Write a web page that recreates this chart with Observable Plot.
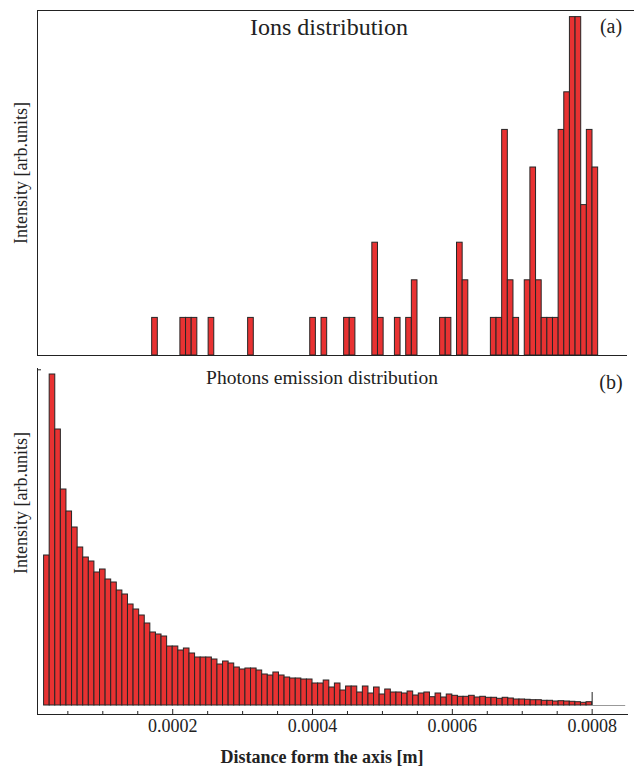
<!DOCTYPE html>
<html><head><meta charset="utf-8">
<script src="https://cdn.jsdelivr.net/npm/d3@7"></script>
<script src="https://cdn.jsdelivr.net/npm/@observablehq/plot@0.6"></script>
<style>
body{margin:0;background:#fff;}
#wrap{position:relative;width:634px;height:766px;overflow:hidden;}
#wrap svg{position:absolute;left:0;overflow:visible;}
</style></head><body><div id="wrap"></div>
<script>
// ---- data ----
const binWidth = 0.000008; // metres per histogram bin
// (a) Ions distribution: bin index and count per bin
const ionBins   = [21,26,27,28,31,38,49,51,55,56,60,61,64,66,67,72,73,75,76,81,82,83,84,85,87,88,89,90,91,92,93,94,95,96,97,98,99];
const ionCounts = [ 1, 1, 1, 1, 1, 1, 1, 1, 1, 1, 3, 1, 1, 1, 2, 1, 1, 3, 2, 1, 1, 6, 2, 1, 2, 5, 2, 1, 1, 1, 6, 7, 9, 9, 4, 6, 5];
// (b) Photons emission distribution: first bin index and intensities (arb. units)
const photonFirstBin = 2;
const photonValues = [150,331,276,216,194,178,158,148,144,133,136,126,123,115,111,101,96,90,82,73,71,69,59,59,
  55,57,52,48,48,48,46,41,44,42,38,36,37,37,35,31,30,33,30,28,27,27,26,26,22,22,25,18,22,15,19,19,
  13,19,12,18,11,16,13,13,12,14,10,12,13,8.3,12,8,11,9.7,8.7,8.7,9.7,
  8,8.7,7.7,7.7,6.7,7.7,7,6,6,5.7,5.3,5.3,4.7,4.7,4,4.3,4,3.7,3.3,2.7,3.3];
const xTickValues = [0.0002, 0.0004, 0.0006, 0.0008];
const xMinorTickValues = [0.00005,0.0001,0.00015,0.00025,0.0003,0.00035,0.00045,0.0005,0.00055,0.00065,0.0007,0.00075];
const yTickValues = [335.7];

const ions = ionBins.map((b, i) => ({x1: b * binWidth, x2: (b + 1) * binWidth, y: ionCounts[i]}));
const photons = photonValues.map((v, i) => ({x1: (photonFirstBin + i) * binWidth, x2: (photonFirstBin + i + 1) * binWidth, y: v}));

const RED = "#e83232", EDGE = "#262626", INK = "#222";
const font = {fontFamily: "'Liberation Serif','Times New Roman',serif", fontSize: "18px", color: INK, background: "transparent"};
const wrap = document.getElementById("wrap");

// ---- panel (a) ----
const ax0 = 5.5e-6, ax1 = 0.0008416, ayTop = 9.176;
const topPlot = Plot.plot({
  width: 634, height: 360,
  marginLeft: 37, marginRight: 7, marginTop: 10, marginBottom: 5,
  style: font,
  x: {domain: [ax0, ax1], axis: null},
  y: {domain: [0, ayTop], axis: null},
  marks: [
    Plot.rect(ions, {x1: "x1", x2: "x2", y1: 0, y2: "y", fill: RED, stroke: EDGE, strokeWidth: 1}),
    Plot.ruleY([0], {stroke: INK}),
    Plot.ruleX([ax0], {stroke: INK}),
    Plot.ruleY([ayTop], {x1: ax0, x2: 0.000852, stroke: INK})
  ]
});
topPlot.style.top = "0px";
wrap.appendChild(topPlot);

// ---- panel (b) ----
const bx0 = 6.58e-6, bx1 = 0.000852, by0 = -9, by1 = 337;
const botPlot = Plot.plot({
  width: 634, height: 406,
  marginLeft: 37, marginRight: 6, marginTop: 8, marginBottom: 52,
  style: font,
  x: {domain: [bx0, bx1], label: null},
  y: {domain: [by0, by1], axis: null},
  marks: [
    Plot.rect(photons, {x1: "x1", x2: "x2", y1: 0, y2: "y", fill: RED, stroke: EDGE, strokeWidth: 1}),
    Plot.ruleY([0], {x1: 0.0008, x2: 0.000848, stroke: "#999"}),
    Plot.ruleX([0.0008], {y1: 0, y2: 13, stroke: INK}),
    Plot.ruleX([bx0], {y1: by0, y2: by1, stroke: INK}),
    Plot.ruleY([by0], {stroke: INK}),
    Plot.ruleX(xTickValues, {y1: by0, y2: by0 + 5, stroke: INK}),
    Plot.ruleX(xMinorTickValues, {y1: by0, y2: by0 + 3, stroke: INK}),
    Plot.ruleY(yTickValues, {x1: bx0, x2: bx0 + 4 / 699000, stroke: INK}),
    Plot.axisX(xTickValues, {tickSize: 0, tickPadding: 5, tickFormat: d => d.toFixed(4), label: null, fill: INK})
  ]
});
botPlot.style.top = "360px";
wrap.appendChild(botPlot);

// ---- text overlay ----
const svg = d3.select(wrap).append("svg")
  .attr("width", 634).attr("height", 766).style("top", "0px")
  .style("pointer-events", "none")
  .attr("font-family", "'Liberation Serif','Times New Roman',serif")
  .attr("fill", INK);
svg.append("text").attr("x", 329).attr("y", 35).attr("text-anchor", "middle").attr("font-size", 24).text("Ions distribution");
svg.append("text").attr("x", 611).attr("y", 33).attr("text-anchor", "middle").attr("font-size", 20).text("(a)");
svg.append("text").attr("x", 322).attr("y", 384).attr("text-anchor", "middle").attr("font-size", 19.5).text("Photons emission distribution");
svg.append("text").attr("x", 611).attr("y", 389).attr("text-anchor", "middle").attr("font-size", 20).text("(b)");
svg.append("text").attr("transform", "translate(27,173) rotate(-90)").attr("text-anchor", "middle").attr("font-size", 18).text("Intensity [arb.units]");
svg.append("text").attr("transform", "translate(27,503) rotate(-90)").attr("text-anchor", "middle").attr("font-size", 18).text("Intensity [arb.units]");
svg.append("text").attr("x", 322).attr("y", 763).attr("text-anchor", "middle").attr("font-size", 18).attr("font-weight", "bold").text("Distance form the axis [m]");
</script>
</body></html>
